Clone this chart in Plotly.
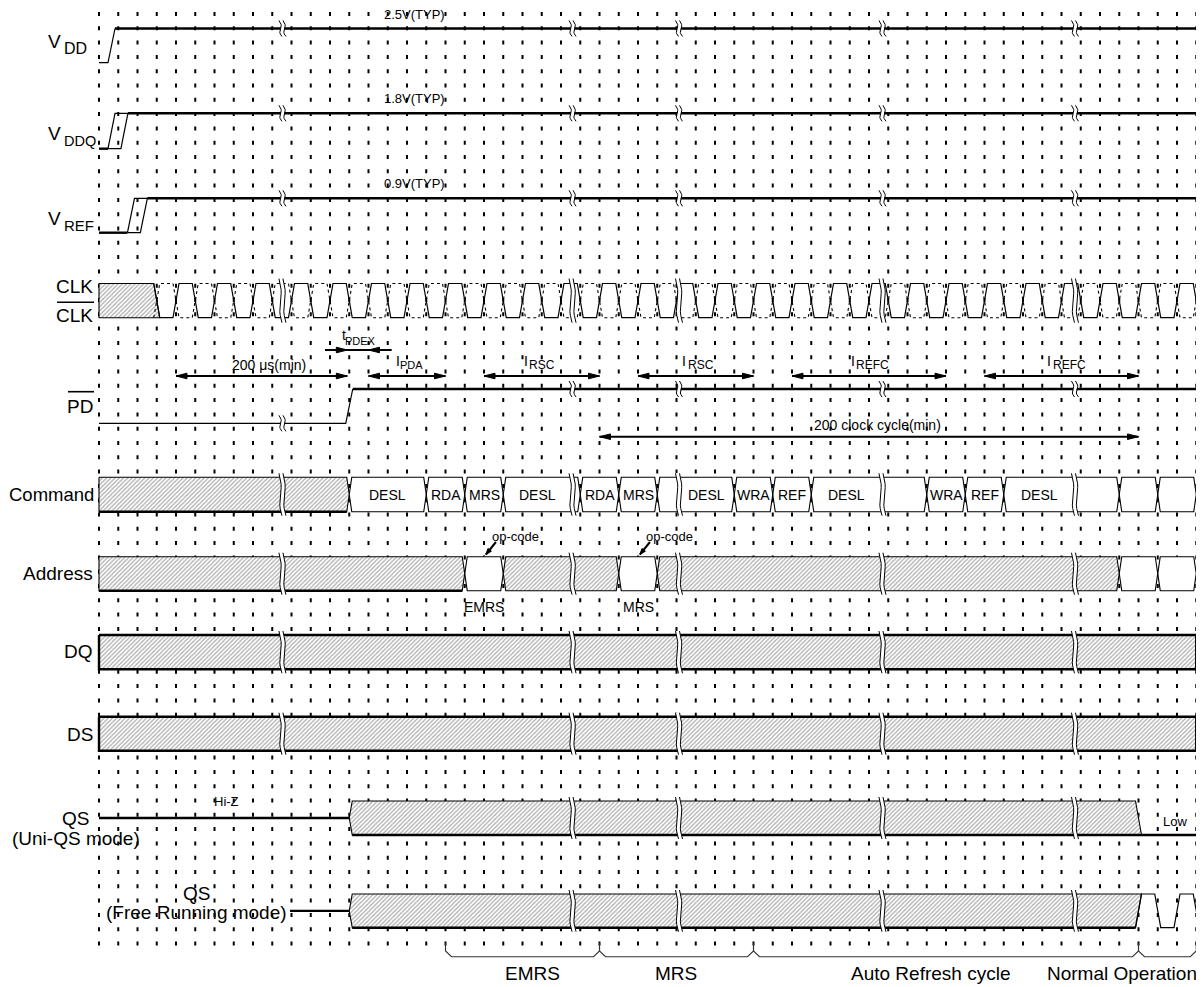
import numpy as np
import plotly.graph_objects as go

# ---------------- data (time values in clock-grid units) ----------------
grid_count = 58                                   # dotted timing grid lines k = 0..57
time_breaks = [9.53, 24.6, 30.13, 40.7, 50.7]     # "≈" breaks of the time axis

supply_main = ["V", "V", "V"]
supply_sub = ["DD", "DDQ", "REF"]
supply_typ = ["2.5V(TYP)", "1.8V(TYP)", "0.9V(TYP)"]
supply_edges = [[0.65], [0.65, 1.32], [1.66, 2.33]]

clk_first_edge = 3
clk_last_edge = 57

pd_rise = 13

cmd_edges = [13, 17, 19, 21, 25, 27, 29, 33, 35, 37, 43, 45, 47, 53, 55, 57]
cmd_labels = ["DESL", "RDA", "MRS", "DESL", "RDA", "MRS", "DESL", "WRA", "REF",
              "DESL", "WRA", "REF", "DESL", "", ""]

addr_edges = [0, 19, 21, 27, 29, 53, 55, 57]
addr_valid = [False, True, False, True, False, True, True]
addr_notes = ["", "EMRS", "", "MRS", "", "", ""]
addr_opcode = [False, True, False, True, False, False, False]

qs_drive_start = 13
qs_low_from = 54
qs_free_edges = [54, 55, 56, 57]
qs_free_line_start = 9.92

span_main = ["200 μs(min)", "t", "I", "I", "I", "I", "I", "200 clock cycle(min)"]
span_sub = ["", "PDEX", "PDA", "RSC", "RSC", "REFC", "REFC", ""]
span_from = [4, 12.9, 14, 20, 28, 36, 46, 26]
span_to = [12.9, 14, 18, 26, 34, 44, 54, 54]
span_inward = [False, True, False, False, False, False, False, False]

phase_labels = ["EMRS", "MRS", "Auto Refresh cycle", "Normal Operation"]
phase_edges = [18, 26, 34, 54, 57]

# ---------------- layout constants ----------------
W, H = 1204, 987
OFF = 8                      # page body margin of the browser
X0PX, DXPX = 99.0, 19.25
PX = 1.0 / DXPX


def kx(px):
    return (px - X0PX) * PX


ROWS = {
    "VDD": (28.5, 62.7), "VDDQ": (113.3, 148.7), "VREF": (198.3, 232.7),
    "CLK": (283.5, 317.7), "PD": (389.0, 423.3), "CMD": (477.3, 511.7),
    "ADDR": (556.7, 590.7), "DQ": (635.0, 669.3), "DS": (716.7, 750.7),
    "QSU": (801.0, 835.0), "QSF": (894.0, 927.7),
}
FONT = "Liberation Sans, Arial, sans-serif"
BIG, MID, SMALL = 19, 14, 13
H_SUP = 3.5 * PX
H_CLK = 3.0 * PX
H_BOX = 2.5 * PX
KEND = grid_count - 1


class Acc:
    def __init__(self):
        self.x, self.y = [], []

    def add(self, xs, ys):
        self.x += list(xs) + [None]
        self.y += list(ys) + [None]


thin, thick, dashed = Acc(), Acc(), Acc()
white_polys, hatch_polys = Acc(), Acc()
mask_polys, break_lines = Acc(), Acc()
arrow_lines, heads, brace = Acc(), Acc(), Acc()
ann = []


def text(xk, y, s, size=MID, xanchor="center", yanchor="middle"):
    ann.append(dict(x=xk, y=y, xref="x", yref="y", text=s, showarrow=False,
                    font=dict(family=FONT, size=size, color="black"),
                    xanchor=xanchor, yanchor=yanchor))


def hexagon(a, b, top, bot, h, acc):
    mid = (top + bot) / 2
    acc.add([a, a + h, b - h, b, b - h, a + h, a], [mid, top, top, mid, bot, bot, mid])


# ---- supplies ----
sup_label_y = [(41.3, 48.2, 16), (133.3, 140.5, 14.5), (218.3, 225.5, 15)]
for m, s, key, typ, edges, (ym, ys, ssz) in zip(supply_main, supply_sub, ["VDD", "VDDQ", "VREF"],
                                              supply_typ, supply_edges, sup_label_y):
    hi, lo = ROWS[key]
    if len(edges) == 1:
        e = edges[0]
        thin.add([0, e - H_SUP, e + H_SUP], [lo, lo, hi])
        thick.add([e + H_SUP, KEND], [hi, hi])
    else:
        e1, e2 = edges
        thick.add([0, e1 - H_SUP], [lo, lo])
        thin.add([e1 - H_SUP, e1 + H_SUP, e2 + H_SUP, e2 - H_SUP, e1 - H_SUP],
                 [lo, hi, hi, lo, lo])
        thick.add([e2 + H_SUP, KEND], [hi, hi])
    text(kx(414), hi - 14.5, typ, SMALL)
    text(kx(62.5), ym, m, BIG, "right")
    text(kx(61.5), ys, s, ssz, "left")

# ---- CLK ----
top, bot = ROWS["CLK"]
e0 = clk_first_edge
hatch_polys.add([0, e0 - H_CLK, e0 + H_CLK, 0, 0], [top, top, bot, bot, top])
sx, sy = [e0 - H_CLK], [top]
dx_, dy_ = [e0 - H_CLK], [bot]
high = True
for e in range(clk_first_edge, clk_last_edge + 1):
    if high:
        sx += [e - H_CLK, e + H_CLK]; sy += [top, bot]
        dx_ += [e - H_CLK, e + H_CLK]; dy_ += [bot, top]
    else:
        sx += [e - H_CLK, e + H_CLK]; sy += [bot, top]
        dx_ += [e - H_CLK, e + H_CLK]; dy_ += [top, bot]
    high = not high
thin.add(sx, sy)
dashed.add(dx_, dy_)
text(kx(95), 286.5, "CLK", BIG, "right")
text(kx(95), 315, "CLK", BIG, "right")

# ---- PD ----
hi, lo = ROWS["PD"]
thin.add([0, pd_rise - H_SUP, pd_rise + H_SUP], [lo, lo, hi])
thick.add([pd_rise + H_SUP, KEND], [hi, hi])
text(kx(95), 406, "PD", BIG, "right")

# ---- Command ----
top, bot = ROWS["CMD"]
mid = (top + bot) / 2
hatch_polys.add([0, cmd_edges[0] - H_BOX, cmd_edges[0], cmd_edges[0] - H_BOX, 0, 0],
                [top, top, mid, bot, bot, top])
thick.add([0, cmd_edges[0] - H_BOX], [bot, bot])
for a, b, lab in zip(cmd_edges[:-1], cmd_edges[1:], cmd_labels):
    hexagon(a, b, top, bot, H_BOX, white_polys)
    if lab:
        inner = [t for t in time_breaks if a < t < b]
        if inner:
            t = inner[0]
            c = (a + t) / 2 if (t - a) >= (b - t) else (t + b) / 2
        else:
            c = (a + b) / 2
        text(c, mid, lab, MID)
text(kx(96), 494.3, "Command", 18.5, "right")

# ---- Address ----
top, bot = ROWS["ADDR"]
mid = (top + bot) / 2
for a, b, valid, note, opc in zip(addr_edges[:-1], addr_edges[1:], addr_valid, addr_notes, addr_opcode):
    if valid:
        hexagon(a, b, top, bot, H_BOX, white_polys)
    else:
        if a == 0:
            hatch_polys.add([0, b - H_BOX, b, b - H_BOX, 0, 0], [top, top, mid, bot, bot, top])
            thick.add([0, b - H_BOX], [bot, bot])
        else:
            hexagon(a, b, top, bot, H_BOX, hatch_polys)
    if note:
        text((a + b) / 2, 606.7, note, MID)
    if opc:
        tip_x, tail_x = a + 1.1, a + 1.62
        arrow_lines.add([tail_x, tip_x], [542, 554.5])
        ux, uy = (tip_x - tail_x) / PX, 554.5 - 542
        n = np.hypot(ux, uy); ux, uy = ux / n, uy / n
        L, Wd = 6, 2.2
        bx, by = -ux * L, -uy * L
        heads.add([tip_x, tip_x + (bx - uy * Wd) * PX, tip_x + (bx + uy * Wd) * PX, tip_x],
                  [554.5, 554.5 + by + ux * Wd, 554.5 + by - ux * Wd, 554.5])
        text(a + 2.65, 536.7, "op-code", SMALL)
text(kx(95), 573.3, "Address", BIG, "right")

# ---- DQ / DS ----
for key, lab, ly in [("DQ", "DQ", 651.7), ("DS", "DS", 734)]:
    top, bot = ROWS[key]
    hatch_polys.add([0, KEND, KEND, 0, 0], [top, top, bot, bot, top])
    thick.add([0, KEND, KEND, 0, 0], [top, top, bot, bot, top])
    text(kx(95), ly, lab, BIG, "right")

# ---- QS (Uni-QS) ----
top, bot = ROWS["QSU"]
mid = (top + bot) / 2
thick.add([0, qs_drive_start], [mid, mid])
a, b = qs_drive_start, qs_low_from
hatch_polys.add([a, a + H_CLK, b - H_CLK, b + H_CLK, a + H_CLK, a],
                [mid, top, top, bot, bot, mid])
thick.add([a + H_CLK, KEND], [bot, bot])
text(kx(226.7), 801.7, "Hi-Z", SMALL)
text(kx(1175), 821.7, "Low", SMALL)
text(kx(91), 818, "QS", BIG, "right")
text(kx(76), 838, "(Uni-QS mode)", BIG)

# ---- QS (Free running) ----
top, bot = ROWS["QSF"]
mid = (top + bot) / 2
thick.add([qs_free_line_start, qs_drive_start], [mid, mid])
hatch_polys.add([a, a + H_CLK, b + H_CLK, b - H_CLK, a + H_CLK, a],
                [mid, top, top, bot, bot, mid])
thick.add([a + H_CLK, b - H_CLK], [bot, bot])
qx, qy = [], []
lvl_high = False
for e in qs_free_edges:
    if lvl_high:
        qx += [e - H_CLK, e + H_CLK]; qy += [top, bot]
    else:
        qx += [e - H_CLK, e + H_CLK]; qy += [bot, top]
    lvl_high = not lvl_high
thin.add(qx, qy)
text(kx(196.7), 893, "QS", BIG)
text(kx(196.7), 912, "(Free Running mode)", BIG)


# ---- time-axis breaks ----
def add_break(xb, ytop, ybot, ext):
    y0, y1 = ytop - ext, ybot + ext
    t = np.linspace(0, 1, 13)
    ys = y0 + t * (y1 - y0)
    shape = (3.0 * (t - 0.5) + 1.4 * np.sin(2 * np.pi * t))
    xl = xb + (shape - 2.0) * PX
    xr = xb + (shape + 2.0) * PX
    mask_polys.add(list(xl) + list(xr[::-1]) + [xl[0]], list(ys) + list(ys[::-1]) + [ys[0]])
    break_lines.add(xl, ys)
    break_lines.add(xr, ys)


for xb in time_breaks:
    for key in ["VDD", "VDDQ", "VREF"]:
        add_break(xb, ROWS[key][0] - 6, ROWS[key][0] + 6, 2)
    add_break(xb, ROWS["CLK"][0], ROWS["CLK"][1], 5)
    pdy = ROWS["PD"][1] if xb < pd_rise else ROWS["PD"][0]
    add_break(xb, pdy - 6, pdy + 6, 2)
    for key in ["CMD", "ADDR", "DQ", "DS"]:
        add_break(xb, ROWS[key][0], ROWS[key][1], 4)
    if xb > qs_drive_start:
        for key in ["QSU", "QSF"]:
            add_break(xb, ROWS[key][0], ROWS[key][1], 4)

# ---- timing spans with arrows ----
span_y = [376, 350, 376, 376, 376, 376, 376, 436.7]
# (x of main text, y main, x of subscript start, y sub, sub size); centre for plain labels
span_text = [(269, 365, None, None, 0), (340, 334.5, 343.3, 340.5, 11), (393.5, 361, 398, 364.5, 11),
             (521.5, 361, 527, 364.5, 12), (680, 361, 685.5, 364.5, 12),
             (848.5, 361, 854, 364.5, 12), (1045, 361, 1050.5, 364.5, 12),
             (877.5, 424.5, None, None, 0)]


def head(tip, y, direction):
    L, Wd = 11 * PX, 2.8
    base = tip - direction * L
    heads.add([tip, base, base, tip], [y, y - Wd, y + Wd, y])


for m, s, a, b, inward, y, (tx, ty, sx_, sy_, ssz) in zip(span_main, span_sub, span_from, span_to,
                                                          span_inward, span_y, span_text):
    if inward:
        arrow_lines.add([kx(325), kx(391.7)], [y, y])
        head(a, y, +1)
        head(b, y, -1)
    else:
        arrow_lines.add([a, b], [y, y])
        head(a, y, -1)
        head(b, y, +1)
    if s:
        text(kx(tx), ty, m, MID, "left")
        text(kx(sx_), sy_, s, ssz, "left")
    else:
        text(kx(tx), ty, m, MID)

# ---- phase braces ----
for a, b in zip(phase_edges[:-1], phase_edges[1:]):
    brace.add([a, a, a + 6 * PX, b - 6 * PX, b, b], [943, 951, 956.7, 956.7, 951, 943])
for lab, xpx in zip(phase_labels, [532, 676, 930, 1122]):
    text(kx(xpx), 973.3, lab, BIG)

# ---------------- figure ----------------
fig = go.Figure()
common = dict(mode="lines", hoverinfo="skip", showlegend=False)
fig.add_trace(go.Scatter(x=white_polys.x, y=white_polys.y, fill="toself", fillcolor="white",
                         line=dict(color="black", width=1.1), **common))
fig.add_trace(go.Scatter(x=hatch_polys.x, y=hatch_polys.y, fill="toself", fillcolor="white",
                         fillpattern=dict(shape="/", fgcolor="#555555", bgcolor="white",
                                          size=3, solidity=0.4),
                         line=dict(color="black", width=1.1), **common))
fig.add_trace(go.Scatter(x=thin.x, y=thin.y, line=dict(color="black", width=1.2), **common))
fig.add_trace(go.Scatter(x=thick.x, y=thick.y, line=dict(color="black", width=2.4), **common))
fig.add_trace(go.Scatter(x=dashed.x, y=dashed.y,
                         line=dict(color="black", width=1.1, dash="3px,3px"), **common))
fig.add_trace(go.Scatter(x=mask_polys.x, y=mask_polys.y, fill="toself", fillcolor="white",
                         line=dict(color="rgba(0,0,0,0)", width=0), **common))
fig.add_trace(go.Scatter(x=break_lines.x, y=break_lines.y,
                         line=dict(color="black", width=1.0), **common))
fig.add_trace(go.Scatter(x=arrow_lines.x, y=arrow_lines.y,
                         line=dict(color="black", width=2.0), **common))
fig.add_trace(go.Scatter(x=heads.x, y=heads.y, fill="toself", fillcolor="black",
                         line=dict(color="black", width=1), **common))
fig.add_trace(go.Scatter(x=brace.x, y=brace.y, line=dict(color="#333333", width=1.1), **common))

shapes = []
for k in range(grid_count):
    shapes.append(dict(type="line", xref="x", yref="y", x0=k, x1=k, y0=12, y1=948,
                       layer="below", line=dict(color="black", width=2, dash="4px,10.3px")))
# overbars of CLK and PD labels
shapes.append(dict(type="line", xref="x", yref="y", x0=kx(57), x1=kx(94), y0=302.3, y1=302.3,
                   line=dict(color="black", width=1.6)))
shapes.append(dict(type="line", xref="x", yref="y", x0=kx(68), x1=kx(94), y0=391.7, y1=391.7,
                   line=dict(color="black", width=1.6)))

fig.update_layout(
    width=W - OFF, height=H - OFF, margin=dict(l=0, r=0, t=0, b=0),
    paper_bgcolor="white", plot_bgcolor="white",
    xaxis=dict(range=[kx(OFF), kx(W)], visible=False, fixedrange=True),
    yaxis=dict(range=[H, OFF], visible=False, fixedrange=True),
    shapes=shapes, annotations=ann, showlegend=False,
)
fig.write_html("out.html")
